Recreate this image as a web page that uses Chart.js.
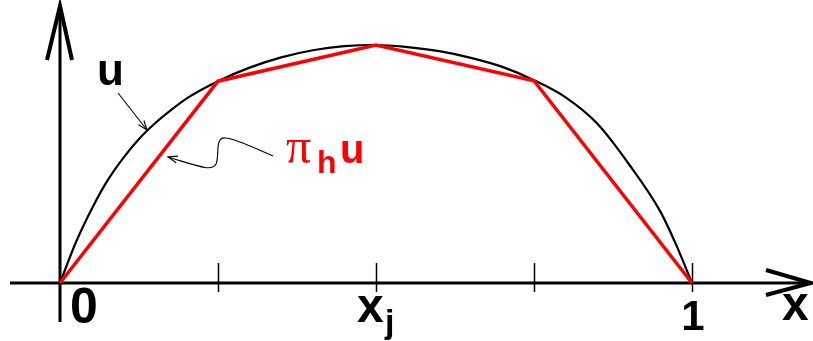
<!DOCTYPE html>
<html><head><meta charset="utf-8">
<script src="https://cdn.jsdelivr.net/npm/chart.js@4.4.1/dist/chart.umd.min.js"></script>
<style>html,body{margin:0;padding:0;background:#fff;overflow:hidden}canvas{display:block}</style>
</head><body>
<canvas id="c" width="813" height="341"></canvas>
<script>
// grid nodes and piecewise-linear interpolant pi_h u
const nodeX = [0, 0.25, 0.5, 0.75, 1];
const interpY = [0, 0.848, 1.0, 0.85, 0];
// exact function u
const uX = [0, 0.025, 0.05, 0.075, 0.1, 0.125, 0.15, 0.175, 0.2, 0.25, 0.3, 0.35, 0.4, 0.45, 0.5, 0.55, 0.6, 0.65, 0.7, 0.75, 0.8, 0.85, 0.9, 0.95, 0.975, 1];
const uY = [0, 0.17, 0.31, 0.43, 0.525, 0.605, 0.67, 0.725, 0.775, 0.848, 0.905, 0.948, 0.978, 0.995, 1.0, 0.991, 0.974, 0.946, 0.908, 0.852, 0.78, 0.67, 0.5, 0.3, 0.16, 0];
// tick marks and tick labels
const tickValues = [0.25, 0.5, 0.75, 1];
const labelValues = [0, 0.5, 1];
const labelMain = ["0", "x", "1"];
const labelSub = ["", "j", ""];
const axisName = "x";
const curveName = "u";
const interpName = ["\u03C0", "h", "u"];

const RED = '#ff0000';
const SANS = '"Liberation Sans", Arial, sans-serif';

function arrowHead(ctx, fx, fy, tx, ty, len, ang) {
  const a = Math.atan2(ty - fy, tx - fx);
  ctx.beginPath();
  ctx.moveTo(tx - len * Math.cos(a - ang), ty - len * Math.sin(a - ang));
  ctx.lineTo(tx, ty);
  ctx.lineTo(tx - len * Math.cos(a + ang), ty - len * Math.sin(a + ang));
  ctx.stroke();
}

const axesPlugin = {
  id: 'axesPlugin',
  beforeDatasetsDraw(chart) {
    const ctx = chart.ctx, xs = chart.scales.x, ys = chart.scales.y;
    const x0 = xs.getPixelForValue(0), y0 = ys.getPixelForValue(0);
    ctx.save();
    ctx.strokeStyle = '#000';
    ctx.lineCap = 'butt';
    ctx.lineWidth = 3;
    ctx.beginPath(); ctx.moveTo(10, y0); ctx.lineTo(808, y0); ctx.stroke();
    ctx.beginPath(); ctx.moveTo(x0, 322); ctx.lineTo(x0, 8); ctx.stroke();
    ctx.lineWidth = 4; ctx.lineJoin = 'miter';
    ctx.beginPath(); ctx.moveTo(766, y0 - 13); ctx.lineTo(811, y0); ctx.lineTo(766, y0 + 12); ctx.stroke();
    ctx.beginPath(); ctx.moveTo(x0 - 13, 60); ctx.lineTo(x0, 6); ctx.lineTo(x0 + 12, 60); ctx.stroke();
    ctx.lineWidth = 1.5;
    tickValues.forEach(v => {
      const px = Math.round(xs.getPixelForValue(v)) + 0.5;
      ctx.beginPath(); ctx.moveTo(px, y0 - 20); ctx.lineTo(px, y0 + 9); ctx.stroke();
    });
    ctx.restore();
  },
  afterDatasetsDraw(chart) {
    const ctx = chart.ctx, xs = chart.scales.x, ys = chart.scales.y;
    const y0 = ys.getPixelForValue(0);
    ctx.save();
    ctx.fillStyle = '#000';
    ctx.textBaseline = 'alphabetic';
    labelValues.forEach((v, i) => {
      const px = xs.getPixelForValue(v);
      if (i === 0) {
        ctx.font = 'bold 50px ' + SANS; ctx.textAlign = 'left';
        ctx.fillText(labelMain[i], px + 10, y0 + 40);
      } else if (i === 1) {
        ctx.font = 'bold 48px ' + SANS; ctx.textAlign = 'left';
        ctx.fillText(labelMain[i], px - 19, y0 + 39);
        ctx.font = 'bold 34px ' + SANS;
        ctx.fillText(labelSub[i], px + 9, y0 + 50);
      } else {
        ctx.font = 'bold 42px ' + SANS; ctx.textAlign = 'center';
        ctx.fillText(labelMain[i], px + 1, y0 + 47);
      }
    });
    ctx.font = 'bold 48px ' + SANS; ctx.textAlign = 'left';
    ctx.fillText(axisName, 782, y0 + 37);
    ctx.font = 'bold 44px ' + SANS;
    ctx.fillText(curveName, 97, 85);
    ctx.fillStyle = RED;
    ctx.font = '50px "Liberation Serif", "DejaVu Serif", serif';
    ctx.fillText(interpName[0], 286, 163);
    ctx.font = 'bold 32px ' + SANS;
    ctx.fillText(interpName[1], 317, 173);
    ctx.font = 'bold 40px ' + SANS;
    ctx.fillText(interpName[2], 340, 163);
    ctx.strokeStyle = '#000'; ctx.lineWidth = 1.1;
    ctx.beginPath(); ctx.moveTo(118, 93); ctx.lineTo(147, 130); ctx.stroke();
    arrowHead(ctx, 118, 93, 147, 130, 10, 0.35);
    ctx.beginPath();
    ctx.moveTo(273, 156);
    ctx.bezierCurveTo(258, 150, 240, 140, 226, 138);
    ctx.bezierCurveTo(214, 136, 220, 156, 216, 164);
    ctx.bezierCurveTo(212, 172, 198, 166, 168, 157);
    ctx.stroke();
    arrowHead(ctx, 190, 163, 168, 157, 10, 0.35);
    ctx.restore();
  }
};

new Chart(document.getElementById('c'), {
  type: 'line',
  data: {
    datasets: [
      {
        label: 'pi_h u',
        data: nodeX.map((x, i) => ({ x, y: interpY[i] })),
        borderColor: RED, borderWidth: 3.5, pointRadius: 0, tension: 0,
        borderJoinStyle: 'miter', fill: false
      },
      {
        label: 'u',
        data: uX.map((x, i) => ({ x, y: uY[i] })),
        borderColor: '#000', borderWidth: 2.2, pointRadius: 0,
        cubicInterpolationMode: 'monotone', fill: false
      }
    ]
  },
  options: {
    responsive: false,
    animation: false,
    devicePixelRatio: 1,
    layout: { padding: 0 },
    plugins: { legend: { display: false }, tooltip: { enabled: false } },
    scales: {
      x: { type: 'linear', display: false, min: -60 / 632, max: -60 / 632 + 813 / 632 },
      y: { type: 'linear', display: false, min: -58 / 238, max: 1 + 45 / 238 }
    }
  },
  plugins: [axesPlugin]
});
</script>
</body></html>
